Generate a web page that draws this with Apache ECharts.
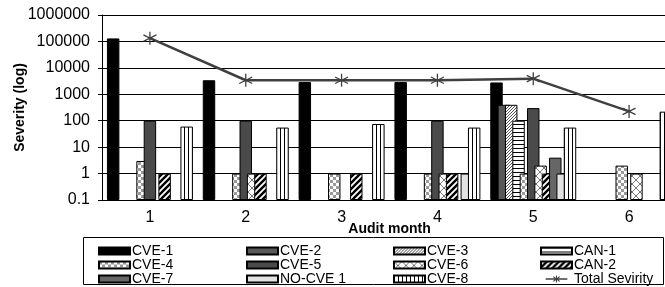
<!DOCTYPE html>
<html>
<head>
<meta charset="utf-8">
<script src="https://cdn.jsdelivr.net/npm/echarts@6/dist/echarts.min.js"></script>
<style>
	html, body { margin: 0; padding: 0; background: #fff; }
	#chart { width: 665px; height: 287px; }
</style>
</head>
<body>
<div id="chart"></div>
<script>
// audit months on the x axis
const months = ['1', '2', '3', '4', '5', '6'];

// severity per vulnerability, one entry per month (null = none)
const cve1 = [130000, 3400, 2900, 2900, 2800, null];
const cve2 = [null, null, null, null, 400, null];
const cve3 = [null, null, null, null, 400, null];
const can1 = [null, null, null, null, 100, null];
const cve4 = [3, 1, 1, 1, 1, 2];
const cve5 = [100, 100, null, 100, 300, null];
const cve6 = [null, 1, null, 1, 2, 1];
const can2 = [1, 1, 1, 1, 1, null];
const cve7 = [null, null, null, null, 4, null];
const noCve1 = [null, null, null, 1, 1, null];
const cve8 = [60, 55, 75, 55, 55, 220];
const totalSeverity = [133000, 3400, 3400, 3400, 3900, 225];

const FONT = '"Liberation Sans", Arial, sans-serif';

function pattern(w, h, draw) {
	const c = document.createElement('canvas');
	c.width = w;
	c.height = h;
	const ctx = c.getContext('2d');
	ctx.fillStyle = '#fff';
	ctx.fillRect(0, 0, w, h);
	draw(ctx);
	return { image: c, repeat: 'repeat' };
}

function diagonal(p, lw, color) {
	return pattern(p, p, (ctx) => {
		ctx.strokeStyle = color;
		ctx.lineWidth = lw;
		ctx.beginPath();
		ctx.moveTo(-1, p + 1); ctx.lineTo(p + 1, -1);
		ctx.moveTo(-1, 1); ctx.lineTo(1, -1);
		ctx.moveTo(p - 1, p + 1); ctx.lineTo(p + 1, p - 1);
		ctx.stroke();
	});
}

const fills = {
	cve1: '#000',
	cve2: '#585858',
	cve3: diagonal(3, 0.8, '#222'),
	can1: pattern(4, 4, (ctx) => { ctx.fillStyle = '#000'; ctx.fillRect(0, 0, 4, 1); }),
	cve4: pattern(6, 6, (ctx) => {
		ctx.fillStyle = '#9a9a9a';
		ctx.fillRect(0, 0, 3, 3);
		ctx.fillRect(3, 3, 3, 3);
	}),
	cve5: '#4a4a4a',
	cve6: pattern(8, 8, (ctx) => {
		ctx.strokeStyle = '#777';
		ctx.lineWidth = 1;
		ctx.beginPath();
		ctx.moveTo(0, 0); ctx.lineTo(8, 8);
		ctx.moveTo(0, 8); ctx.lineTo(8, 0);
		ctx.stroke();
	}),
	can2: diagonal(6, 2.4, '#000'),
	cve7: '#666',
	noCve1: '#e2e2e2',
	cve8: pattern(4, 4, (ctx) => { ctx.fillStyle = '#000'; ctx.fillRect(0, 0, 1, 4); }),
};

const barDefs = [
	['CVE-1', cve1, fills.cve1],
	['CVE-2', cve2, fills.cve2],
	['CVE-3', cve3, fills.cve3],
	['CAN-1', can1, fills.can1],
	['CVE-4', cve4, fills.cve4],
	['CVE-5', cve5, fills.cve5],
	['CVE-6', cve6, fills.cve6],
	['CAN-2', can2, fills.can2],
	['CVE-7', cve7, fills.cve7],
	['NO-CVE 1', noCve1, fills.noCve1],
	['CVE-8', cve8, fills.cve8],
];

const series = barDefs.map(([name, data, color]) => ({
	name,
	type: 'bar',
	data,
	barWidth: '13%',
	barGap: '-41%',
	itemStyle: { color, borderColor: '#000', borderWidth: 1 },
	emphasis: { disabled: true },
}));

series.push({
	name: 'Total Sevirity',
	type: 'line',
	data: totalSeverity,
	z: 5,
	symbol: 'path://M0,-10L0,10M-8.66,-5L8.66,5M-8.66,5L8.66,-5',
	symbolSize: 13,
	lineStyle: { color: '#404040', width: 2.5 },
	itemStyle: { color: '#404040', borderColor: '#404040', borderWidth: 1.3 },
	emphasis: { disabled: true },
});

// line + asterisk swatch for the legend, built from filled strips
const lineStarIcon = 'path://M0,4L31,4L31,6L0,6Z'
	+ 'M14.8,0L16.2,0L16.2,10L14.8,10Z'
	+ 'M10.5,2L11.5,1L20.5,8L19.5,9Z'
	+ 'M19.5,1L20.5,2L11.5,9L10.5,8Z';

const legendNames = [
	['CVE-1', 'CVE-4', 'CVE-7'],
	['CVE-2', 'CVE-5', 'NO-CVE 1'],
	['CVE-3', 'CVE-6', 'CVE-8'],
	['CAN-1', 'CAN-2', 'Total Sevirity'],
];
const legendLeft = [98, 246, 393, 540];

const legend = legendNames.map((names, i) => ({
	orient: 'vertical',
	left: legendLeft[i],
	top: 244,
	padding: 0,
	itemGap: 0,
	itemWidth: 31,
	itemHeight: 7,
	selectedMode: false,
	textStyle: { fontFamily: FONT, fontSize: 14, lineHeight: 12, color: '#000', padding: [0, 0, 0, -3] },
	data: names.map((n) => (n === 'Total Sevirity'
		? { name: n, icon: lineStarIcon, itemStyle: { borderWidth: 0 } }
		: { name: n, icon: 'rect' })),
}));

const chart = echarts.init(document.getElementById('chart'));
chart.setOption({
	animation: false,
	textStyle: { fontFamily: FONT },
	grid: { left: 102, right: -12, top: 15, bottom: 87, outerBoundsMode: 'none', containLabel: false },
	xAxis: {
		type: 'category',
		data: months,
		name: 'Audit month',
		nameLocation: 'middle',
		nameGap: 22,
		nameMoveOverlap: false,
		nameTextStyle: { fontFamily: FONT, fontSize: 14, fontWeight: 'bold', color: '#000' },
		axisLine: { lineStyle: { color: '#000', width: 1 } },
		axisTick: { length: 3, lineStyle: { color: '#000' } },
		axisLabel: { fontFamily: FONT, fontSize: 16, color: '#000', margin: 10 },
	},
	yAxis: {
		type: 'log',
		logBase: 10,
		min: 0.1,
		max: 1000000,
		startValue: 0.1,
		name: 'Severity (log)',
		nameLocation: 'middle',
		nameGap: 75,
		nameMoveOverlap: false,
		nameTextStyle: { fontFamily: FONT, fontSize: 14, fontWeight: 'bold', color: '#000' },
		axisLine: { show: true, lineStyle: { color: '#000', width: 1 } },
		axisTick: { show: true, length: 4, lineStyle: { color: '#000' } },
		axisLabel: {
			fontFamily: FONT,
			fontSize: 16,
			color: '#000',
			margin: 12,
			formatter: (v) => String(Number(v.toPrecision(6))),
		},
		splitLine: { lineStyle: { color: '#000', width: 1 } },
	},
	legend,
	graphic: [{
		type: 'rect',
		shape: { x: 83.5, y: 237.5, width: 580, height: 47 },
		style: { fill: 'none', stroke: '#000', lineWidth: 1 },
		silent: true,
	}],
	tooltip: { show: false },
	series,
});
</script>
</body>
</html>
